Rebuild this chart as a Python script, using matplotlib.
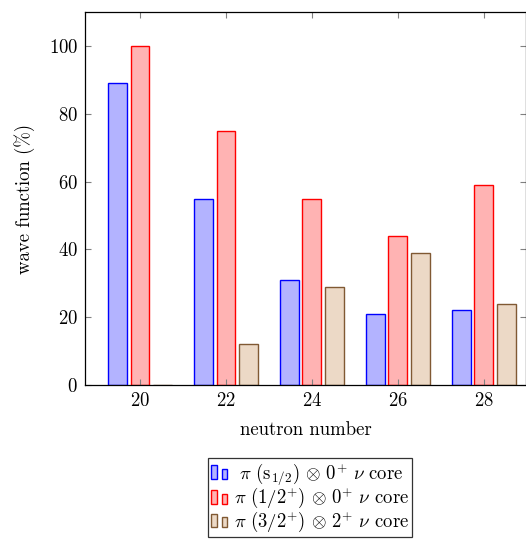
import numpy as np
import matplotlib
matplotlib.use("Agg")
import matplotlib.pyplot as plt
from matplotlib.patches import Rectangle
from matplotlib.legend_handler import HandlerBase

# data
neutrons = [20, 22, 24, 26, 28]
s12_core0 = [89, 55, 31, 21, 22]
p12_core0 = [100, 75, 55, 44, 59]
p32_core2 = [0, 12, 29, 39, 24]

labels = [
    r"$\ \pi\ (\mathrm{s}_{1/2})\,\otimes\,0^{+}\ \nu$ core",
    r"$\pi\ (1/2^{+})\,\otimes\,0^{+}\ \nu$ core",
    r"$\pi\ (3/2^{+})\,\otimes\,2^{+}\ \nu$ core",
]

plt.rcParams["font.family"] = "serif"
plt.rcParams["font.serif"] = ["cmr10", "DejaVu Serif"]
plt.rcParams["mathtext.fontset"] = "cm"
plt.rcParams["axes.formatter.use_mathtext"] = True
plt.rcParams["axes.unicode_minus"] = False

FS = 13.5


class TwoBarHandler(HandlerBase):
    # pgfplots-style ybar legend image: two small bars
    def create_artists(self, legend, orig_handle, xdescent, ydescent,
                       width, height, fontsize, trans):
        fc = orig_handle.get_facecolor()
        ec = orig_handle.get_edgecolor()
        bw = width * 0.32
        h = height * 1.05
        y0 = -ydescent - height * 0.05
        r1 = Rectangle((-xdescent, y0), bw, h, fc=fc, ec=ec, lw=1, transform=trans)
        r2 = Rectangle((-xdescent + width * 0.62, y0), bw, h * 0.75, fc=fc, ec=ec,
                       lw=1, transform=trans)
        return [r1, r2]


fig = plt.figure(figsize=(5.26, 5.40), dpi=100)
ax = fig.add_axes([85 / 526, 1 - 385 / 540, 441 / 526, 373 / 540])

x = np.array(neutrons, dtype=float)
w = 0.44
off = 0.525
series = [
    (s12_core0, -off, (0.7, 0.7, 1.0), "blue"),
    (p12_core0, 0.0, (1.0, 0.7, 0.7), "red"),
    (p32_core2, off, (0.925, 0.85, 0.775), (0.5, 0.35, 0.2)),
]
bars = []
for vals, dx, fc, ec in series:
    b = ax.bar(x + dx, vals, w, color=fc, edgecolor=ec, linewidth=1)
    bars.append(b)

ax.set_xlim(18.72, 28.98)
ax.set_ylim(0, 110)
ax.set_xticks(neutrons)
ax.set_yticks([0, 20, 40, 60, 80, 100])
ax.tick_params(direction="in", top=True, right=True, length=4, width=0.8,
               color="0.5", labelsize=FS, pad=5)
for s in ax.spines.values():
    s.set_linewidth(0.9)
ax.set_xlabel("neutron number", fontsize=FS, labelpad=8)
ax.set_ylabel("wave function (%)", fontsize=FS, labelpad=10)

handles = [b.patches[0] for b in bars]
leg = fig.legend(handles, labels, loc="upper center",
                 bbox_to_anchor=(310 / 526, 1 - 458 / 540),
                 handler_map={Rectangle: TwoBarHandler()},
                 fontsize=13.5, frameon=True, fancybox=False, edgecolor="black",
                 handlelength=0.9, handletextpad=0.3, labelspacing=-0.05,
                 borderpad=0.15, borderaxespad=0)
leg.get_frame().set_linewidth(0.9)

fig.savefig("out.png", dpi=100)
